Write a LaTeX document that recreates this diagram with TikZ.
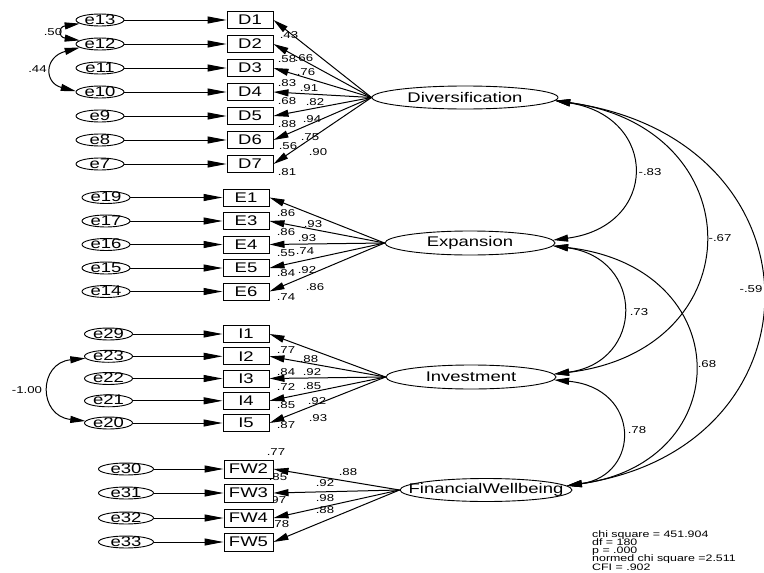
\documentclass[tikz,border=0pt]{standalone}
\usepackage{fontspec}
\setmainfont{Liberation Sans}[FakeStretch=1.32]
\usetikzlibrary{arrows.meta,shapes.geometric,calc}
\newcommand\fitfont{\fontsize{9.4}{8.3}\selectfont\lineskiplimit=-20pt\relax\lineskip=0pt\relax}
\begin{document}
\begin{tikzpicture}[x=1pt,y=-1pt,
  errnode/.style={ellipse, draw, line width=0.9pt, minimum width=48pt, minimum height=12pt, inner sep=0pt, text height=8pt, text depth=0pt, fill=white, font=\fontsize{14}{15}\selectfont},
  obsbox/.style={rectangle, draw, line width=1pt, minimum width=46pt, minimum height=17pt, inner sep=0pt, fill=white, font=\fontsize{14}{15}\selectfont},
  latnode/.style={ellipse, draw, line width=0.9pt, inner sep=0pt, fill=white, font=\fontsize{14}{15}\selectfont},
  numlbl/.style={inner sep=0pt, font=\fontsize{10}{11}\selectfont},
  loadarrow/.style={-{Triangle[length=15pt,width=7pt]}, line width=1pt},
  errarrow/.style={-{Triangle[length=19pt,width=7pt]}, line width=1pt},
  covarc/.style={{Triangle[length=15pt,width=7pt]}-{Triangle[length=15pt,width=7pt]}, line width=1pt},
]
\useasboundingbox (0,0) rectangle (764,573);

% ---------- numeric labels (drawn first; boxes may cover them) ----------
\node[numlbl] (nd1) at (289,35) {.43};
\node[numlbl] (nd2) at (287,59) {.58};
\node[numlbl] (nd3) at (304,58) {.66};
\node[numlbl] (nd4) at (306,72) {.76};
\node[numlbl] (nd5) at (287,83) {.83};
\node[numlbl] (nd6) at (309,88) {.91};
\node[numlbl] (nd7) at (287,101) {.68};
\node[numlbl] (nd8) at (315,102) {.82};
\node[numlbl] (nd9) at (287,124) {.88};
\node[numlbl] (nd10) at (312,119) {.94};
\node[numlbl] (nd11) at (288,146) {.56};
\node[numlbl] (nd12) at (310,137) {.75};
\node[numlbl] (nd13) at (318,152) {.90};
\node[numlbl] (nd14) at (287,172) {.81};

\node[numlbl] (ne1) at (286,213) {.86};
\node[numlbl] (ne2) at (313,224) {.93};
\node[numlbl] (ne3) at (286,232) {.86};
\node[numlbl] (ne4) at (307,238) {.93};
\node[numlbl] (ne5) at (286,253) {.55};
\node[numlbl] (ne6) at (305,251) {.74};
\node[numlbl] (ne7) at (286,273) {.84};
\node[numlbl] (ne8) at (307,270) {.92};
\node[numlbl] (ne9) at (315,287) {.86};
\node[numlbl] (ne10) at (286,297) {.74};

\node[numlbl] (ni1) at (286,350) {.77};
\node[numlbl] (ni2) at (309,359) {.88};
\node[numlbl] (ni3) at (286,372) {.84};
\node[numlbl] (ni4) at (312,372) {.92};
\node[numlbl] (ni5) at (286,387) {.72};
\node[numlbl] (ni6) at (312,386) {.85};
\node[numlbl] (ni7) at (286,405) {.85};
\node[numlbl] (ni8) at (317,401) {.92};
\node[numlbl] (ni9) at (318,418) {.93};
\node[numlbl] (ni10) at (286,425) {.87};

\node[numlbl] (nf1) at (276,452) {.77};
\node[numlbl] (nf2) at (348,472) {.88};
\node[numlbl] (nf3) at (278,477) {.85};
\node[numlbl] (nf4) at (325,483) {.92};
\node[numlbl] (nf5) at (277,500) {.97};
\node[numlbl] (nf6) at (325,498) {.98};
\node[numlbl] (nf7) at (280,524) {.78};
\node[numlbl] (nf8) at (325,510) {.88};

\node[numlbl] (nc1) at (650,172) {-.83};
\node[numlbl] (nc2) at (720,238) {-.67};
\node[numlbl] (nc3) at (751,289) {-.59};
\node[numlbl] (nc4) at (639,312) {.73};
\node[numlbl] (nc5) at (707,364) {.68};
\node[numlbl] (nc6) at (637,430) {.78};

\node[numlbl] (nx1) at (53,32) {.50};
\node[numlbl] (nx2) at (37.5,69) {.44};
\node[numlbl] (nx3) at (27,390) {-1.00};

% ---------- latent variables ----------
\node[latnode, minimum width=186pt, minimum height=23pt] (div) at (465,97.5) {\makebox[0pt]{Diversification}};
\node[latnode, minimum width=170pt, minimum height=24pt] (exp) at (470,243) {\makebox[0pt]{Expansion}};
\node[latnode, minimum width=170pt, minimum height=24pt] (inv) at (471,377) {\makebox[0pt]{Investment}};
\node[latnode, minimum width=172pt, minimum height=23pt] (fw) at (486,490) {\makebox[0pt]{FinancialWellbeing}};

% ---------- Diversification block ----------
\foreach \i/\e/\y in {1/13/20, 2/12/44, 3/11/68, 4/10/92, 5/9/116, 6/8/140, 7/7/164} {
  \node[errnode] (e\e) at (100,\y) {e\e};
  \node[obsbox] (D\i) at (250,\y) {D\i};
  \draw[errarrow] (e\e) -- (D\i);
  \draw[loadarrow] (div.west) -- (D\i.east);
}

% ---------- Expansion block ----------
\foreach \i/\e/\y in {1/19/197.5, 3/17/221, 4/16/244.5, 5/15/268, 6/14/291.5} {
  \node[errnode] (e\e) at (106,\y) {e\e};
  \node[obsbox] (E\i) at (246,\y) {E\i};
  \draw[errarrow] (e\e) -- (E\i);
  \draw[loadarrow] (exp.west) -- (E\i.east);
}

% ---------- Investment block ----------
\foreach \i/\e/\y in {1/29/334, 2/23/356.3, 3/22/378.5, 4/21/400.8, 5/20/423} {
  \node[errnode] (e\e) at (108.5,\y) {e\e};
  \node[obsbox] (I\i) at (246,\y) {I\i};
  \draw[errarrow] (e\e) -- (I\i);
  \draw[loadarrow] (inv.west) -- (I\i.east);
}

% ---------- Financial Wellbeing block ----------
\foreach \i/\e/\y in {2/30/469, 3/31/493, 4/32/518, 5/33/542} {
  \node[errnode, minimum width=55pt] (e\e) at (126,\y) {e\e};
  \node[obsbox, minimum width=49pt, minimum height=18pt] (FW\i) at (248.5,\y) {FW\i};
  \draw[errarrow] (e\e) -- (FW\i);
  \draw[loadarrow] (fw.west) -- (FW\i.east);
}

% ---------- error covariances ----------
\draw[covarc] (e13.190) .. controls (58,27) and (58,37) .. (e12.170);
\draw[covarc] (e12.190) .. controls (44,57) and (44,83) .. (e10.178);
\draw[covarc] (e23.185) .. controls (38,363) and (38,416) .. (e20.175);

% ---------- latent covariances ----------
\draw[covarc] (div.-2) .. controls (659,117) and (659,226) .. (exp.2);
\draw[covarc] (div.-2) .. controls (754,128) and (754,350) .. (inv.2);
\draw[covarc] (div.-2) .. controls (828,139) and (828,447) .. (fw.3);
\draw[covarc] (exp.-2) .. controls (645,258) and (645,362) .. (inv.2);
\draw[covarc] (exp.-2) .. controls (738,267) and (738,462) .. (fw.3);
\draw[covarc] (inv.-2) .. controls (641,388) and (641,475) .. (fw.3);

% ---------- fit statistics ----------
\node[anchor=north west, inner sep=0pt, align=left, font=\fitfont] (fit) at (592,530)
  {chi square = 451.904\\df = 180\\p = .000\\normed chi square =2.511\\CFI = .902};
\end{tikzpicture}
\end{document}
